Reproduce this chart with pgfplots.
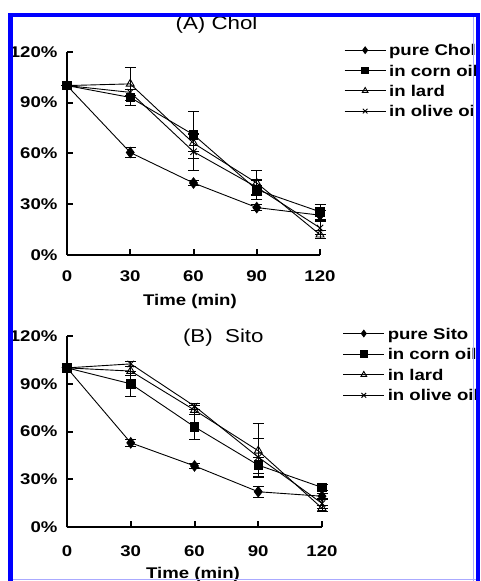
\documentclass[border=0pt]{standalone}
\usepackage{pgfplots}
\pgfplotsset{compat=1.18}
\usepackage{fontspec}
\setmainfont{Liberation Sans}
\newfontfamily\lab[FakeStretch=1.2]{Liberation Sans}
\newcommand\labfont{\lab\bfseries\fontsize{15.5}{18}\selectfont}
\newcommand\titfont{\lab\fontsize{18.6}{22}\selectfont}
\definecolor{frameblue}{RGB}{0,0,255}
\definecolor{framelight}{RGB}{170,170,255}

\pgfplotsset{
  panel/.style={
    scale only axis,
    anchor=south west,
    xmin=0, xmax=120, ymin=0, ymax=120,
    axis lines=left,
    axis line style={-, line width=2pt, black},
    x axis line style={-}, y axis line style={-},
    tick align=inside,
    major tick length=6pt,
    tick style={line width=2pt, black},
    xtick={0,30,60,90,120},
    ytick={0,30,60,90,120},
    xticklabels={0,30,60,90,120},
    yticklabels={0\%,30\%,60\%,90\%,120\%},
    ticklabel style={font=\labfont},
    /pgf/number format/assume math mode=true,
    yticklabel style={xshift=-6pt},
    clip=false,
    legend cell align=left,
    legend image code/.code={%
      \draw[mark repeat=2, mark phase=2, #1, mark size=3.3pt] plot coordinates {(0pt,0pt) (20.5pt,0pt) (41pt,0pt)};},
    every axis plot/.append style={line width=0.9pt, black},
    error bars/error bar style={line width=0.9pt, black},
    error bars/error mark options={rotate=90, mark size=5.5pt, line width=0.9pt, black},
  },
  pdiam/.style={mark=diamond*, mark size=5.2pt, mark options={solid, fill=black}},
  psq/.style={mark=square*, mark size=4.3pt, mark options={solid, fill=black}},
  ptri/.style={mark=triangle, mark size=4.6pt, mark options={solid, fill=white}},
  pcross/.style={mark=x, mark size=4.5pt, mark options={solid}},
  ebars/.style={error bars/.cd, y dir=both, y explicit},
}

\begin{document}
\begin{tikzpicture}
\useasboundingbox (0pt,0pt) rectangle (480pt,581pt);
\clip (0pt,0pt) rectangle (480pt,581pt);

% ---------------- Panel A ----------------
\begin{axis}[panel,
  at={(67pt,326pt)}, width=253pt, height=203.3pt,
  xticklabel style={yshift=-12pt},
  title={(A) Chol},
  title style={font=\titfont, at={(axis description cs:0.591,1.082)}, anchor=base, inner sep=0pt},
  xlabel={Time (min)},
  xlabel style={font=\labfont, at={(axis description cs:0.486,-0.246)}, anchor=base, inner sep=0pt},
  legend style={draw=none, fill=none, at={(1.0949,1.0357)}, anchor=north west,
    inner sep=0pt, row sep=9.2pt, column sep=3pt,
    nodes={font=\labfont, text height=11.1pt, text depth=0pt, inner sep=0pt}},
]
\addplot[pdiam, ebars] coordinates {
 (0,100) +- (0,0) (30,60.5) +- (0,3) (60,42.5) +- (0,1.5) (90,28) +- (0,2) (120,23.5) +- (0,3)};
\addlegendentry{pure Chol}
\addplot[psq, ebars] coordinates {
 (0,100) +- (0,0) (30,93) +- (0,5) (60,71) +- (0,14) (90,38.5) +- (0,6) (120,25.5) +- (0,4.5)};
\addlegendentry{in corn oil}
\addplot[ptri, ebars] coordinates {
 (0,100) +- (0,0) (30,101) +- (0,9.5) (60,66) +- (0,5) (90,42.5) +- (0,7.5) (120,12) +- (0,2.5)};
\addlegendentry{in lard}
\addplot[pcross, ebars] coordinates {
 (0,100) +- (0,0) (30,96) +- (0,2) (60,61) +- (0,11) (90,40) +- (0,4) (120,16) +- (0,4)};
\addlegendentry{in olive oil}
\end{axis}

% ---------------- Panel B ----------------
\begin{axis}[panel,
  at={(67pt,53.7pt)}, width=255pt, height=191.3pt,
  xticklabel style={yshift=-15pt},
  title={(B)\ \ Sito},
  title style={font=\titfont, at={(axis description cs:0.613,0.9357)}, anchor=base, inner sep=0pt},
  xlabel={Time (min)},
  xlabel style={font=\labfont, at={(axis description cs:0.494,-0.270)}, anchor=base, inner sep=0pt},
  legend style={draw=none, fill=none, at={(1.081,1.043)}, anchor=north west,
    inner sep=0pt, row sep=9.5pt, column sep=3pt,
    nodes={font=\labfont, text height=11.1pt, text depth=0pt, inner sep=0pt}},
]
\addplot[pdiam, ebars] coordinates {
 (0,100) +- (0,0) (30,53) +- (0,2) (60,38.5) +- (0,1.5) (90,22.3) +- (0,3.5) (120,19.5) +- (0,2)};
\addlegendentry{pure Sito}
\addplot[psq, ebars] coordinates {
 (0,100) +- (0,0) (30,90) +- (0,8) (60,63) +- (0,8) (90,39) +- (0,5) (120,25) +- (0,2)};
\addlegendentry{in corn oil}
\addplot[ptri, ebars] coordinates {
 (0,100) +- (0,0) (30,98) +- (0,3) (60,73.5) +- (0,3) (90,48) +- (0,17) (120,12) +- (0,2)};
\addlegendentry{in lard}
\addplot[pcross, ebars] coordinates {
 (0,100) +- (0,0) (30,102.5) +- (0,1.5) (60,76) +- (0,2) (90,44) +- (0,12) (120,15) +- (0,3)};
\addlegendentry{in olive oil}
\end{axis}

% ---------------- frame ----------------
\fill[frameblue] (8.3pt,0pt) rectangle (13.3pt,568.3pt);
\fill[frameblue] (8.3pt,563.7pt) rectangle (480pt,568.3pt);
\fill[frameblue] (475.5pt,0pt) rectangle (480pt,568.3pt);
\draw[framelight, line width=1pt] (473pt,0pt) -- (473pt,563.7pt);
\draw[framelight, line width=1pt] (13.3pt,1.5pt) -- (475.5pt,1.5pt);
\end{tikzpicture}
\end{document}
